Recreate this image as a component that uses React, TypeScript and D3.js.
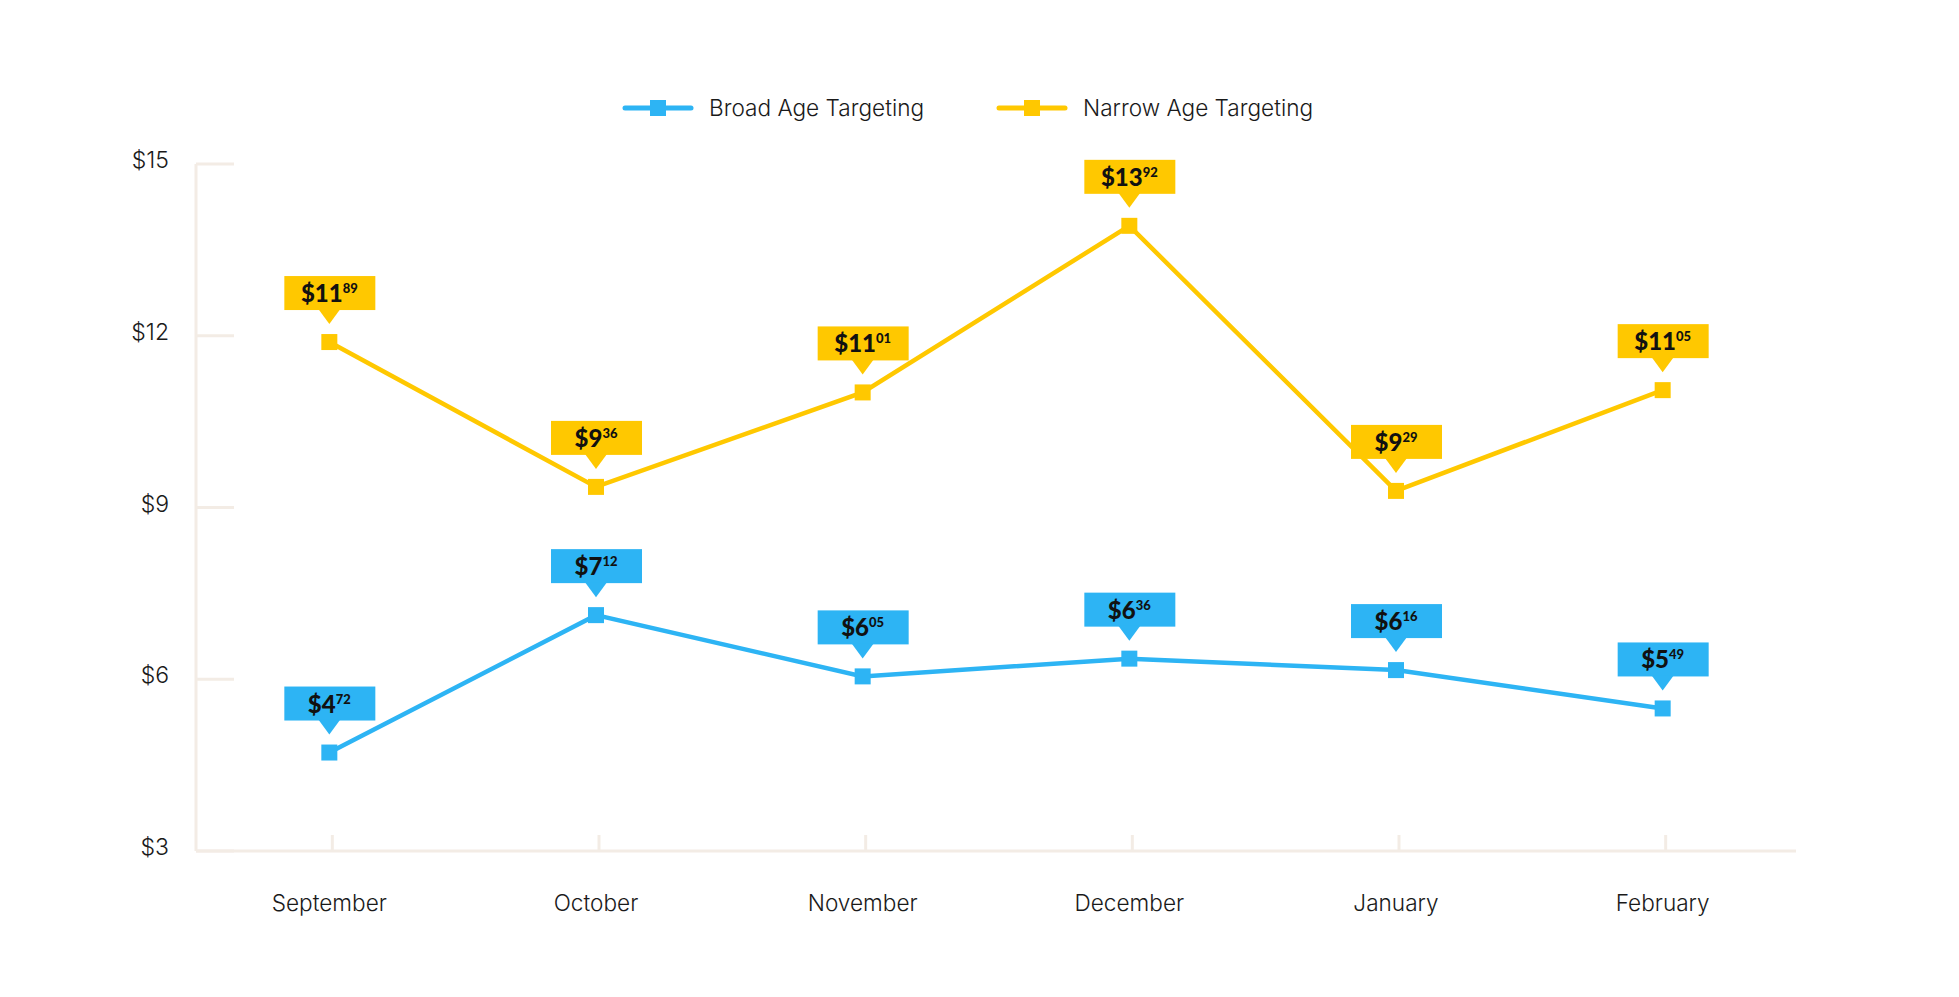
import React, { useEffect, useRef } from 'react';
import * as d3 from 'd3';

const months = ['September', 'October', 'November', 'December', 'January', 'February'];
const broad = [4.72, 7.12, 6.05, 6.36, 6.16, 5.49];
const narrow = [11.89, 9.36, 11.01, 13.92, 9.29, 11.05];
const yTicks = [3, 6, 9, 12, 15];

const series = [
  { name: 'Broad Age Targeting', values: broad, color: '#2db4f4' },
  { name: 'Narrow Age Targeting', values: narrow, color: '#ffc800' },
];

const App: React.FC = () => {
  const ref = useRef<SVGSVGElement | null>(null);

  useEffect(() => {
    if (!ref.current) return;
    const svg = d3.select(ref.current);
    svg.selectAll('*').remove();

    const W = 1959;
    const H = 997;
    const left = 196, right = 1796, top = 164, bottom = 851;
    const axisColor = '#f3ece5';
    const textFont = 'Inter, Roboto, sans-serif';

    svg.attr('width', W).attr('height', H);

    const x = d3.scaleBand().domain(months).range([left, right]);
    const y = d3.scaleLinear().domain([3, 15]).range([bottom, top]);
    const cx = (m: string) => (x(m) || 0) + x.bandwidth() / 2;

    // y axis line + short ticks
    svg.append('line')
      .attr('x1', left).attr('x2', left).attr('y1', y(15)).attr('y2', bottom)
      .attr('stroke', axisColor).attr('stroke-width', 3);
    svg.selectAll('.ytick').data(yTicks).enter().append('line')
      .attr('x1', left).attr('x2', left + 38)
      .attr('y1', d => y(d)).attr('y2', d => y(d))
      .attr('stroke', axisColor).attr('stroke-width', 3);
    svg.selectAll('.ylab').data(yTicks).enter().append('text')
      .attr('x', 169).attr('y', d => y(d) + 4)
      .attr('text-anchor', 'end')
      .style('font-family', textFont).style('font-size', '23px').style('font-weight', 300)
      .style('fill', '#1a1a1a')
      .text(d => `$${d}`);

    // x axis line + ticks
    svg.append('line')
      .attr('x1', left).attr('x2', right).attr('y1', bottom).attr('y2', bottom)
      .attr('stroke', axisColor).attr('stroke-width', 3);
    svg.selectAll('.xtick').data(months).enter().append('line')
      .attr('x1', d => cx(d) + 3).attr('x2', d => cx(d) + 3)
      .attr('y1', bottom - 16).attr('y2', bottom)
      .attr('stroke', axisColor).attr('stroke-width', 3);
    svg.selectAll('.xlab').data(months).enter().append('text')
      .attr('x', d => cx(d)).attr('y', 911)
      .attr('text-anchor', 'middle')
      .style('font-family', textFont).style('font-size', '22.6px').style('font-weight', 300)
      .style('fill', '#1a1a1a')
      .text(d => d);

    // legend
    const legendX = [625, 999];
    series.forEach((s, i) => {
      const g = svg.append('g').attr('transform', `translate(${legendX[i]},108)`);
      g.append('line').attr('x1', 0).attr('x2', 66).attr('y1', 0).attr('y2', 0)
        .attr('stroke', s.color).attr('stroke-width', 5).attr('stroke-linecap', 'round');
      g.append('rect').attr('x', 25).attr('y', -8).attr('width', 16).attr('height', 16)
        .attr('fill', s.color);
      g.append('text').attr('x', 84).attr('y', 8)
        .style('font-family', textFont).style('font-size', '22.6px').style('font-weight', 300)
        .style('fill', '#1a1a1a')
        .text(s.name);
    });

    const line = d3.line<number>()
      .x((_, i) => cx(months[i]))
      .y(d => y(d));

    series.forEach(s => {
      svg.append('path')
        .datum(s.values)
        .attr('d', line)
        .attr('fill', 'none')
        .attr('stroke', s.color)
        .attr('stroke-width', 4.5);

      svg.selectAll(null).data(s.values).enter().append('rect')
        .attr('x', (_, i) => cx(months[i]) - 8)
        .attr('y', d => y(d) - 8)
        .attr('width', 16).attr('height', 16)
        .attr('fill', s.color);

      // callout labels
      const lab = svg.selectAll(null).data(s.values).enter().append('g')
        .attr('transform', (d, i) => `translate(${cx(months[i])},${y(d)})`);
      lab.append('rect')
        .attr('x', -45).attr('y', -66).attr('width', 91).attr('height', 34)
        .attr('fill', s.color);
      lab.append('path')
        .attr('d', 'M-11,-33 L11,-33 L0,-18 Z')
        .attr('fill', s.color);
      const t = lab.append('text')
        .attr('x', 0).attr('y', -40)
        .attr('text-anchor', 'middle')
        .style('font-family', 'Lato, sans-serif')
        .style('font-weight', 900)
        .style('fill', '#111');
      t.append('tspan').style('font-size', '24px')
        .text(d => `$${Math.floor(d)}`);
      t.append('tspan').style('font-size', '13px').attr('dy', -9)
        .text(d => d3.format('02d')(Math.round((d - Math.floor(d)) * 100)));
    });
  }, []);

  return <svg ref={ref} style={{ display: 'block', marginTop: -8, marginLeft: -8 }}></svg>;
};

export default App;
